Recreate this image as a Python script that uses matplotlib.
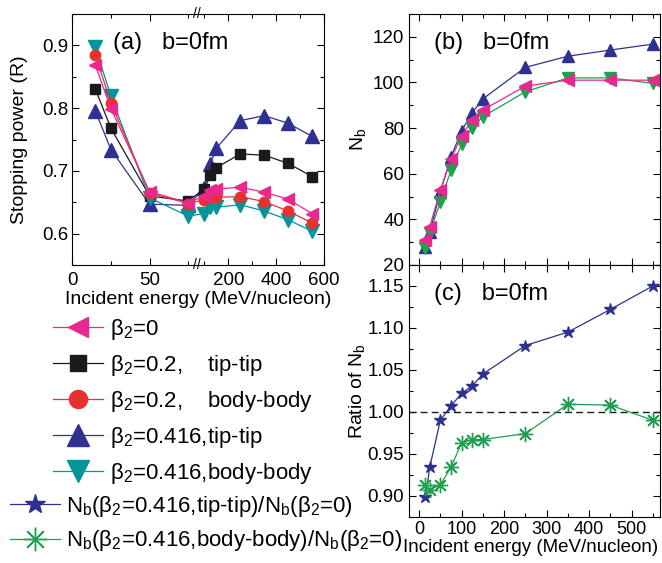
import numpy as np
import matplotlib
matplotlib.use("Agg")
import matplotlib.pyplot as plt
from matplotlib.lines import Line2D
from matplotlib.ticker import FixedLocator, MultipleLocator, NullFormatter

plt.rcParams["font.family"] = ["Liberation Sans", "DejaVu Sans"]
plt.rcParams["mathtext.fontset"] = "custom"
plt.rcParams["mathtext.rm"] = "Liberation Sans"
plt.rcParams["mathtext.it"] = "Liberation Sans:italic"
plt.rcParams["mathtext.bf"] = "Liberation Sans:bold"

# incident energy (MeV/nucleon)
energy = [15, 25, 50, 75, 100, 125, 150, 250, 350, 450, 550]

# (a) stopping power R
r_b0 = [0.868, 0.799, 0.667, 0.649, 0.660, 0.669, 0.671, 0.674, 0.666, 0.655, 0.632]
r_tip02 = [0.830, 0.768, 0.660, 0.652, 0.671, 0.693, 0.705, 0.727, 0.725, 0.712, 0.691]
r_body02 = [0.885, 0.808, 0.665, 0.648, 0.654, 0.658, 0.658, 0.659, 0.651, 0.636, 0.617]
r_tip0416 = [0.795, 0.734, 0.647, 0.645, 0.673, 0.711, 0.736, 0.780, 0.788, 0.776, 0.755]
r_body0416 = [0.897, 0.819, 0.657, 0.628, 0.632, 0.642, 0.642, 0.646, 0.636, 0.622, 0.604]

# (b) N_b
nb_b0 = [31.0, 36.8, 52.8, 66.3, 76.6, 83.5, 87.9, 98.4, 101.0, 101.0, 101.0]
nb_tip = [27.7, 34.3, 52.1, 67.4, 78.8, 86.7, 92.8, 106.6, 111.5, 114.2, 116.8]
nb_body = [27.3, 33.9, 47.7, 61.6, 73.0, 80.1, 85.0, 95.9, 102.0, 102.0, 99.6]

# (c) ratio of N_b
ratio_tip = [0.898, 0.934, 0.990, 1.007, 1.022, 1.031, 1.045, 1.079, 1.095, 1.122, 1.150]
ratio_body = [0.913, 0.907, 0.913, 0.934, 0.963, 0.967, 0.967, 0.974, 1.009, 1.008, 0.990]

PINK = "#e8288f"
BLACK = "#1a1a1a"
RED = "#e8312f"
BLUE = "#2e3192"
TEAL = "#00949b"
GREEN = "#1ea04f"
ASTER = (8, 2, 0)

# broken x axis of panel (a): 0-80 linear, then compressed up to 600
BREAK = 80.0
JUMP = 2.4
SLOPE = 0.155


def fwd(e):
    e = np.asarray(e, dtype=float)
    return np.where(e <= BREAK, e, BREAK + JUMP + (e - BREAK) * SLOPE)


def inv(t):
    t = np.asarray(t, dtype=float)
    return np.where(t <= BREAK, t, BREAK + np.maximum(t - BREAK - JUMP, 0) / SLOPE)


def style_ticks(ax):
    ax.tick_params(which="both", direction="in", top=True, right=True,
                   labelsize=13.5, pad=3)
    ax.tick_params(which="major", length=5, width=0.8)
    ax.tick_params(which="minor", length=3, width=0.8)


W, H = 662, 563
fig = plt.figure(figsize=(W / 100, H / 100), dpi=100)


def px_axes(left, top, right, bottom):
    return fig.add_axes([left / W, 1 - bottom / H, (right - left) / W, (bottom - top) / H])


ax_a = px_axes(72.3, 14, 324, 265)
ax_b = px_axes(408.5, 14, 660, 265)
ax_c = px_axes(408.5, 265, 660, 516.7)

lw = 0.9

# ---- panel (a)
ax_a.set_xscale("function", functions=(fwd, inv))
ax_a.plot(energy, r_tip0416, color=BLUE, marker="^", ms=9.5, lw=lw)
ax_a.plot(energy, r_tip02, color=BLACK, marker="s", ms=7, lw=lw)
ax_a.plot(energy, r_body0416, color=TEAL, marker="v", ms=9.5, lw=lw)
ax_a.plot(energy, r_body02, color=RED, marker="o", ms=7.5, lw=lw)
ax_a.plot(energy, r_b0, color=PINK, marker="<", ms=9, lw=lw)
ax_a.set_xlim(0, 600)
ax_a.set_ylim(0.55, 0.95)
ax_a.xaxis.set_major_locator(FixedLocator([0, 50, 200, 400, 600]))
ax_a.xaxis.set_minor_locator(FixedLocator([25, 75, 100, 300, 500]))
ax_a.xaxis.set_minor_formatter(NullFormatter())
ax_a.set_xticklabels(["0", "50", "200", "400", "600"])
ax_a.yaxis.set_major_locator(MultipleLocator(0.1))
ax_a.yaxis.set_minor_locator(MultipleLocator(0.05))
style_ticks(ax_a)
ax_a.tick_params(axis="x", pad=5)
ax_a.set_ylabel("Stopping power (R)", fontsize=14)
ax_a.set_xlabel("Incident energy (MeV/nucleon)", fontsize=14)
ax_a.yaxis.set_label_coords(-0.175, 0.5)
ax_a.xaxis.set_label_coords(0.5, -0.105)
brk = fwd(BREAK) / fwd(600) + 0.006
for yy in (0, 1):
    ax_a.text(brk, yy, "//", transform=ax_a.transAxes, ha="center", va="center",
              fontsize=10, clip_on=False)
ax_a.text(0.16, 0.86, "(a)   b=0fm", transform=ax_a.transAxes, fontsize=17)

# ---- panel (b)
ax_b.plot(energy, nb_tip, color=BLUE, marker="^", ms=8, lw=lw)
ax_b.plot(energy, nb_body, color=GREEN, marker="v", ms=8, lw=lw)
ax_b.plot(energy, nb_b0, color=PINK, marker="<", ms=8, lw=lw)
ax_b.set_xlim(-25, 567)
ax_b.set_ylim(20, 130)
ax_b.xaxis.set_major_locator(MultipleLocator(100))
ax_b.xaxis.set_minor_locator(MultipleLocator(50))
ax_b.yaxis.set_major_locator(MultipleLocator(20))
ax_b.yaxis.set_minor_locator(MultipleLocator(10))
style_ticks(ax_b)
ax_b.tick_params(axis="x", labelbottom=False)
ax_b.set_ylabel(r"$\mathrm{N_b}$", fontsize=14)
ax_b.yaxis.set_label_coords(-0.16, 0.5)
ax_b.text(0.1, 0.86, "(b)   b=0fm", transform=ax_b.transAxes, fontsize=17)

# ---- panel (c)
ax_c.axhline(1.0, color=BLACK, ls=(0, (5, 3)), lw=1)
ax_c.plot(energy, ratio_tip, color=BLUE, marker="*", ms=9, lw=lw)
ax_c.plot(energy, ratio_body, color=GREEN, marker=ASTER, ms=11, mew=1, lw=lw)
ax_c.set_xlim(-25, 567)
ax_c.set_ylim(0.875, 1.175)
ax_c.xaxis.set_major_locator(MultipleLocator(100))
ax_c.xaxis.set_minor_locator(MultipleLocator(50))
ax_c.yaxis.set_major_locator(MultipleLocator(0.05))
ax_c.yaxis.set_minor_locator(MultipleLocator(0.025))
ax_c.yaxis.set_major_formatter(lambda v, pos: f"{v:.2f}")
style_ticks(ax_c)
ax_c.tick_params(axis="x", pad=3, labelsize=13)
ax_c.set_ylabel(r"Ratio of $\mathrm{N_b}$", fontsize=14)
ax_c.set_xlabel("Incident energy (MeV/nucleon)", fontsize=13.5)
ax_c.yaxis.set_label_coords(-0.165, 0.5)
ax_c.xaxis.set_label_coords(0.487, -0.088)
ax_c.text(0.1, 0.86, "(c)   b=0fm", transform=ax_c.transAxes, fontsize=17)

# ---- legends
beta = r"$\mathrm{\beta_2}$"
nb = r"$\mathrm{N_b}$"
h1 = [
    Line2D([], [], color=PINK, marker="<", ms=15, lw=lw),
    Line2D([], [], color=BLACK, marker="s", ms=11, lw=lw),
    Line2D([], [], color=RED, marker="o", ms=13, lw=lw),
    Line2D([], [], color=BLUE, marker="^", ms=16, lw=lw),
    Line2D([], [], color=TEAL, marker="v", ms=16, lw=lw),
]
l1 = [
    beta + "=0",
    beta + "=0.2,    tip-tip",
    beta + "=0.2,    body-body",
    beta + "=0.416,tip-tip",
    beta + "=0.416,body-body",
]
leg1 = fig.legend(h1, l1, loc="upper left", bbox_to_anchor=(53 / W, 1 - 317 / H),
                  frameon=False, fontsize=16, handlelength=2.25, handletextpad=0.3,
                  labelspacing=0.49, borderpad=0, borderaxespad=0)

h2 = [
    Line2D([], [], color=BLUE, marker="*", ms=15, lw=lw),
    Line2D([], [], color=GREEN, marker=ASTER, ms=17, mew=1, lw=lw),
]
l2 = [
    nb + "(" + beta + "=0.416,tip-tip)/" + nb + "(" + beta + "=0)",
    nb + "(" + beta + "=0.416,body-body)/" + nb + "(" + beta + "=0)",
]
leg2 = fig.legend(h2, l2, loc="upper left", bbox_to_anchor=(10 / W, 1 - 494 / H),
                  frameon=False, fontsize=16, handlelength=2.25, handletextpad=0.25,
                  labelspacing=0.42, borderpad=0, borderaxespad=0)

fig.savefig("out.png", dpi=100)
